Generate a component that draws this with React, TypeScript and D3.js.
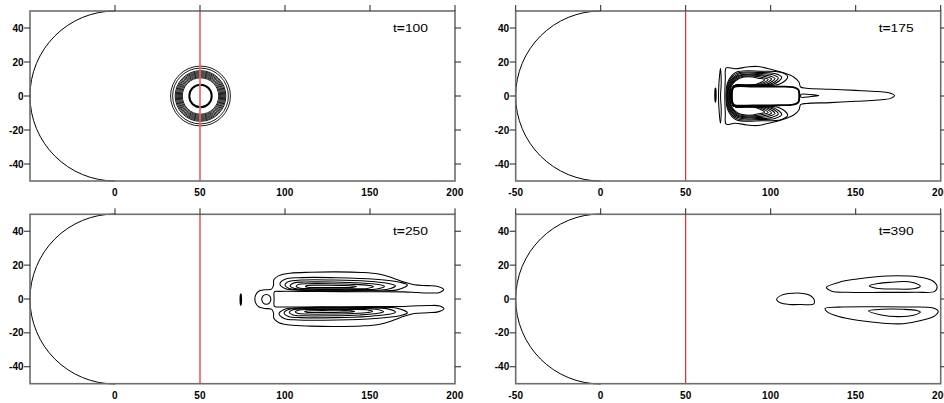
import React from "react";
import * as d3 from "d3";

type P = [number, number];

// ---- axes / frame data ----
const X_DOMAIN: P = [-50, 200];
const Y_DOMAIN: P = [-50, 50];
const X_TICKS_LEFT = [0, 50, 100, 150, 200];
const X_TICKS_RIGHT = [-50, 0, 50, 100, 150, 200];
const Y_TICKS = [-40, -20, 0, 20, 40];
const PANEL_TIMES = ["100", "175", "250", "390"];
const PROBE_X = 50;
const BODY_RADIUS = 50;

// ---- t=100 : concentric rings ----
const T100_CENTER: P = [50.3, 0];
const T100_RINGS = [17.6, 16.4, 14.9, 14.3, 13.7, 13.1, 12.5, 11.9, 11.3, 10.7];
const T100_CORE = 6.6;

// ---- t=175 ----
const T175_OUTER: P[] = [
  [73.8, 16.6], [79, 16.0], [86, 17.0], [92, 17.4], [100, 15.8], [108, 13.5], [113.5, 11.2],
  [116.6, 8.2], [117.6, 5.3], [121, 4.6], [135, 4.0], [150, 3.3], [163, 2.6], [169.5, 1.9],
  [172.8, 0.3], [170.5, -1.4], [163, -2.4], [150, -3.1], [135, -3.9], [121, -4.4], [117.6, -5.1],
  [116.6, -8.2], [113.5, -11.2], [108, -13.5], [100, -15.8], [92, -17.4], [86, -17.0], [79, -16.0],
  [73.8, -16.6], [73.3, -10], [73.0, 0], [73.3, 10],
];
const T175_BAR: P[] = [
  [78.5, 5.4], [90, 5.6], [105, 5.5], [113, 5.2], [116.2, 3.8], [116.8, 0], [116.2, -3.8],
  [113, -5.1], [105, -5.4], [90, -5.5], [78.5, -5.3], [77.4, -3.5], [77.2, 0], [77.4, 3.5],
];
const T175_C_LEFT = [73.7, 74.1, 74.5, 74.9, 75.3, 75.7, 76.1];
const T175_C_TOP = [14.6, 13.9, 13.3, 12.7, 12.2, 11.7, 11.2];
const T175_C_RIGHT = [110, 106.5, 104.5, 102.5, 100.5, 98.5, 96.5];
const T175_LENS: P[] = [
  [70.4, 16.3], [70.9, 8], [70.5, 0], [70.9, -8], [70.4, -16], [69.6, -8], [69.3, 0], [69.6, 8],
];
const T175_DASH: P[] = [[67.5, 4.5], [67.65, 0.5], [67.5, -3.4], [67.35, 0.5]];
const T175_SLIVER: P[] = [[117.8, 1.0], [123, 0.9], [128.3, 0.3], [123, -0.4], [117.8, -0.6]];

// ---- t=250 ----
const T250_OUTER: P[] = [
  [93.5, 11.5], [96.5, 13.8], [103, 15.2], [115, 15.8], [130, 16.0], [145, 15.7], [155, 14.8],
  [163, 12.6], [170, 10.0], [176, 8.4], [184, 7.9], [190, 7.4], [193.3, 5.6], [191, 3.9],
  [185, 3.6], [178, 3.8], [170, 4.2], [150, 4.3], [120, 4.4], [96, 4.5], [93.8, 4.3],
  [93.6, 0], [93.8, -4.4], [96, -4.7], [120, -4.6], [150, -4.5], [170, -4.4], [178, -4.0],
  [185, -3.8], [191, -4.1], [193.5, -5.8], [190, -7.6], [184, -8.1], [176, -8.6], [170, -10.2],
  [163, -12.8], [155, -15.0], [145, -15.9], [130, -16.2], [115, -16.0], [103, -15.4],
  [96.5, -14.0], [93.5, -11.5], [93.2, -8], [92, -6], [88, -5.6], [84.5, -4.6], [82.6, -2],
  [82.6, 2], [84.5, 4.6], [88, 5.4], [92, 5.8], [93.2, 8],
];
const T250_RING = { cx: 89, cy: -0.2, rx: 2.7, ry: 2.9 };
const T250_DASH: P[] = [[74, 2.8], [74.2, -0.3], [74, -3.5], [73.8, -0.3]];
const T250_TOP_LEFT = [97, 100, 103, 106.5, 112];
const T250_TOP_RIGHT = [172, 165, 158.5, 152, 142];
const T250_TOP_OUTER = [12.6, 11.2, 10.0, 9.0, 8.1];
const T250_TOP_INNER = [5.0, 5.3, 5.7, 6.1, 6.8];
const T250_BOT_LEFT = [96.5, 99.5, 102.5, 106, 111.5];
const T250_BOT_RIGHT = [172, 165, 158, 151.5, 141];
const T250_BOT_OUTER = [-12.4, -11.0, -9.9, -8.9, -8.0];
const T250_BOT_INNER = [-5.1, -5.4, -5.8, -6.2, -6.9];

// ---- t=390 ----
const T390_BLOB: P[] = [
  [103.5, -0.3], [106.5, 2.3], [113, 3.4], [119, 3.3], [123, 2.2], [125.4, 0], [125.6, -2.6],
  [124.3, -3.3], [118, -3.3], [111, -3.2], [106, -2.4],
];
const T390_TOP_OUTER: P[] = [
  [132.8, 6.9], [140, 9.8], [150.8, 11.8], [162, 13.1], [174.4, 13.7], [186.1, 13.1],
  [195.2, 10.8], [197.9, 7.2], [196.5, 4.5], [185, 4.0], [165, 3.9], [145, 4.0], [136, 4.6],
];
const T390_TOP_INNER: P[] = [
  [158, 7.8], [163, 9.1], [171, 9.9], [179, 10.3], [185.5, 9.2], [188, 7.6], [185, 6.2],
  [172, 5.9], [162, 6.4],
];
const T390_BOT_OUTER: P[] = [
  [132, -5.6], [140, -4.8], [160, -4.6], [180, -4.7], [195, -5.2], [198.5, -7.2], [196.5, -10],
  [189, -12.6], [178, -14.6], [165, -14.2], [151, -12.6], [140, -10.4], [133.5, -7.8],
];
const T390_BOT_INNER: P[] = [
  [157.5, -7.0], [165, -6.1], [178, -6.1], [186, -6.8], [188, -7.7], [184, -9.6], [175, -10.4],
  [165, -9.4],
];

// ---- shape builders ----
function cShape(xl: number, yt: number, xr: number): P[] {
  const yIn = 6.3;
  const mid = (yt + yIn) / 2 + 0.8;
  const top: P[] = [
    [85, yIn], [xr - 5, yIn + 0.6], [xr, mid], [xr - 4, yt - 0.7], [(xl + xr) / 2 + 3, yt],
    [xl + 6, yt - 0.6], [xl + 1.3, yt * 0.6],
  ];
  const bottom: P[] = top.slice().reverse().map(([x, y]) => [x, -y] as P);
  return [
    ...top, [xl, 0], ...bottom,
    [78.5, -yIn + 0.2], [77.0, -3], [77.0, 3], [78.5, yIn - 0.2],
  ];
}

function lobeShape(xl: number, xr: number, yo: number, yi: number): P[] {
  const L = xr - xl;
  const ym = (yo + yi) / 2;
  const h = yo - ym;
  return [
    [xl, ym], [xl + 0.04 * L, ym + 0.75 * h], [xl + 0.15 * L, yo], [xl + 0.45 * L, yo],
    [xl + 0.75 * L, ym + 0.75 * h], [xl + 0.94 * L, ym + 0.3 * h], [xr, ym - 0.15 * h],
    [xl + 0.92 * L, yi + 0.05 * (yo - yi)], [xl + 0.6 * L, yi], [xl + 0.2 * L, yi],
    [xl + 0.04 * L, ym - 0.7 * h],
  ];
}

type Contour = { pts: P[]; bold?: boolean };

const T175_CONTOURS: Contour[] = [
  { pts: T175_OUTER },
  ...T175_C_LEFT.map((xl, i) => ({ pts: cShape(xl, T175_C_TOP[i], T175_C_RIGHT[i]) })),
  { pts: T175_BAR, bold: true },
  { pts: T175_LENS },
  { pts: T175_DASH, bold: true },
  { pts: T175_SLIVER },
];

const T250_CONTOURS: Contour[] = [
  { pts: T250_OUTER },
  { pts: T250_DASH, bold: true },
  ...T250_TOP_LEFT.map((xl, i) => ({ pts: lobeShape(xl, T250_TOP_RIGHT[i], T250_TOP_OUTER[i], T250_TOP_INNER[i]) })),
  ...T250_BOT_LEFT.map((xl, i) => ({ pts: lobeShape(xl, T250_BOT_RIGHT[i], T250_BOT_OUTER[i], T250_BOT_INNER[i]) })),
];

const T390_CONTOURS: Contour[] = [
  { pts: T390_BLOB },
  { pts: T390_TOP_OUTER },
  { pts: T390_TOP_INNER },
  { pts: T390_BOT_OUTER },
  { pts: T390_BOT_INNER },
];

const FONT = "'Liberation Sans', Arial, Helvetica, sans-serif";
const FRAME = "#6e6e6e";

type PanelProps = {
  left: number; right: number; top: number; bottom: number;
  xTicks: number[]; time: string; probeColor: string; probeWidth: number;
  contours: Contour[]; rings?: boolean; ellipse?: typeof T250_RING;
};

function Panel(p: PanelProps) {
  const x = d3.scaleLinear().domain(X_DOMAIN).range([p.left, p.right]);
  const y = d3.scaleLinear().domain(Y_DOMAIN).range([p.bottom, p.top]);
  const line = d3.line<P>().x((d) => x(d[0])).y((d) => y(d[1])).curve(d3.curveCatmullRomClosed.alpha(0.5));
  const rPx = (r: number) => x(r) - x(0);
  const ryPx = (r: number) => y(0) - y(r);
  const body = d3.path();
  body.arc(x(0), y(0), rPx(BODY_RADIUS), -Math.PI / 2, Math.PI / 2, true);
  const tl = 6;
  return (
    <g>
      <path d={body.toString()} fill="none" stroke="#000" strokeWidth={1} />
      {p.rings && (
        <g fill="none" stroke="#000">
          {T100_RINGS.map((r, i) => (
            <circle key={i} cx={x(T100_CENTER[0])} cy={y(T100_CENTER[1])} r={rPx(r)} strokeWidth={0.9} />
          ))}
          <circle cx={x(T100_CENTER[0])} cy={y(T100_CENTER[1])} r={rPx(T100_CORE)} strokeWidth={2} />
        </g>
      )}
      {p.contours.map((c, i) => (
        <path key={i} d={line(c.pts) || ""} fill="none" stroke="#000" strokeWidth={c.bold ? 1.9 : 1.05} />
      ))}
      {p.ellipse && (
        <ellipse cx={x(p.ellipse.cx)} cy={y(p.ellipse.cy)} rx={rPx(p.ellipse.rx)} ry={ryPx(p.ellipse.ry)}
          fill="none" stroke="#000" strokeWidth={1.05} />
      )}
      <line x1={x(PROBE_X)} x2={x(PROBE_X)} y1={y(50)} y2={y(-50)} stroke={p.probeColor} strokeWidth={p.probeWidth} />
      {/* frame */}
      <rect x={p.left} y={p.top} width={p.right - p.left} height={p.bottom - p.top} fill="none" stroke={FRAME} strokeWidth={1.6} />
      {/* top ticks */}
      {p.xTicks.map((t) => (
        <line key={"tt" + t} x1={x(t)} x2={x(t)} y1={p.top} y2={p.top - tl} stroke="#222" strokeWidth={1} />
      ))}
      {/* left & right ticks */}
      {Y_TICKS.map((t) => (
        <g key={"yt" + t}>
          <line x1={p.left - tl} x2={p.left} y1={y(t)} y2={y(t)} stroke="#222" strokeWidth={1} />
          <line x1={p.right} x2={p.right + tl} y1={y(t)} y2={y(t)} stroke="#222" strokeWidth={1} />
          <text x={p.left - tl - 0.5} y={y(t)} dy="0.36em" textAnchor="end" fontFamily={FONT} fontWeight="bold"
            fontSize={10} fill="#000">{t}</text>
        </g>
      ))}
      {p.xTicks.map((t) => (
        <text key={"xl" + t} x={x(t)} y={p.bottom + 15} textAnchor="middle" fontFamily={FONT} fontWeight="bold"
          fontSize={10} letterSpacing={0.2} fill="#000">{t}</text>
      ))}
      <text x={p.right - 62} y={p.top + 21} fontFamily={FONT} fontSize={11.5} textLength={35}
        lengthAdjust="spacingAndGlyphs" fill="#000">
        t<tspan fontWeight="bold">=</tspan>{p.time}
      </text>
    </g>
  );
}

export default function App() {
  const L = { left: 30, right: 455 };
  const R = { left: 515.7, right: 940.7 };
  const T = { top: 11, bottom: 181 };
  const B = { top: 214.3, bottom: 383.7 };
  return (
    <svg width={944} height={403} style={{ position: "absolute", left: 0, top: 0, display: "block", background: "#fff" }}>
      <rect width={944} height={403} fill="#fff" />
      <Panel {...L} {...T} xTicks={X_TICKS_LEFT} time={PANEL_TIMES[0]} probeColor="#f06464" probeWidth={1.7}
        contours={[]} rings />
      <Panel {...R} {...T} xTicks={X_TICKS_RIGHT} time={PANEL_TIMES[1]} probeColor="#dd0000" probeWidth={1}
        contours={T175_CONTOURS} />
      <Panel {...L} {...B} xTicks={X_TICKS_LEFT} time={PANEL_TIMES[2]} probeColor="#f06464" probeWidth={1.7}
        contours={T250_CONTOURS} ellipse={T250_RING} />
      <Panel {...R} {...B} xTicks={X_TICKS_RIGHT} time={PANEL_TIMES[3]} probeColor="#dd0000" probeWidth={1}
        contours={T390_CONTOURS} />
    </svg>
  );
}
